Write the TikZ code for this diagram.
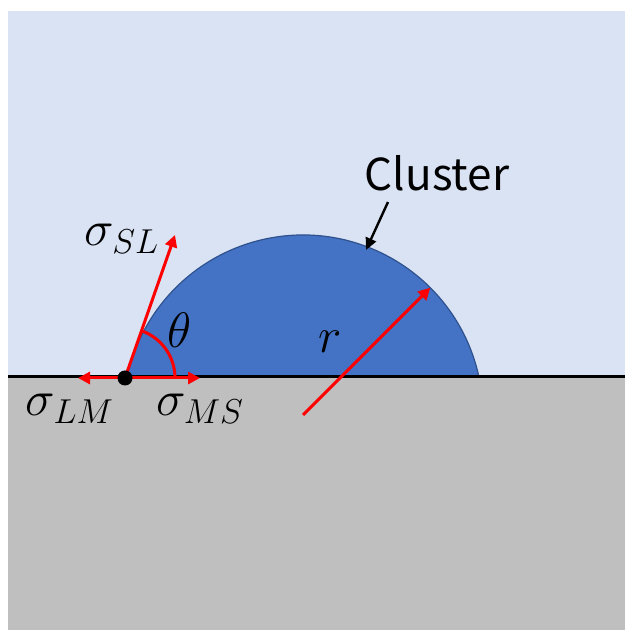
\documentclass[tikz,border=0pt]{standalone}
\usepackage{fontspec}
\usepackage{amsmath}
\newfontfamily\clfont{Noto Sans CJK JP}
\usetikzlibrary{positioning, arrows.meta, calc}
\definecolor{cAir}{HTML}{DAE3F3}
\definecolor{cSub}{HTML}{BFBFBF}
\definecolor{cCl}{HTML}{4472C4}
\definecolor{cClEdge}{HTML}{2F528F}

\begin{document}
\begin{tikzpicture}[x=0.5pt, y=0.5pt,
    force/.style={red, line width=1.5pt, -{Triangle[length=6pt, width=6pt]}},
    lbl/.style={font=\fontsize{23}{26}\selectfont, inner sep=0pt}]
    \useasboundingbox (0,0) rectangle (625,630);
    % air and substrate
    \fill[cAir] (8,253) rectangle (625,619);
    \fill[cSub] (8,0) rectangle (625,253);

    % cluster (cap of a circle)
    \coordinate (O) at (303,215);
    \fill[cCl, draw=cClEdge, line width=0.6pt]
        ($(O)+(12.25:180)$) arc[start angle=12.25, end angle=167.75, radius=180] -- cycle;
    \draw[line width=1.5pt] (8,253) -- (625,253);

    % contact point and forces
    \coordinate (C) at (125,252);
    \coordinate (SL) at (175,395);
    \coordinate (LM) at (78,252);
    \coordinate (MS) at (200,252);
    \coordinate (R) at ($(O)+(45:180)$);
    \draw[red, line width=1.5pt] ($(C)+(50,0)$) arc[start angle=0, end angle=70.7, radius=50];
    \draw[force] (C) -- (SL);
    \draw[force] (C) -- (LM);
    \draw[force] (C) -- (MS);
    \draw[force] (O) -- (R);
    \fill (C) circle[radius=7.5];

    % labels
    \node[lbl] (sigSL) at (122,391) {$\sigma_{SL}$};
    \node[lbl] (sigLM) at (70,221) {$\sigma_{LM}$};
    \node[lbl] (sigMS) at (200,221) {$\sigma_{MS}$};
    \node[lbl] (theta) at (180,300) {$\theta$};
    \node[lbl] (rlab) at (330,288) {$r$};
    \node[lbl, font=\clfont\fontsize{22}{24}\selectfont] (clusterlab) at (437,457) {Cluster};
    \coordinate (clTail) at (388,428);
    \coordinate (clTip) at (366,380);
    \draw[line width=1.2pt, -{Triangle[length=6pt, width=5.5pt]}] (clTail) -- (clTip);
\end{tikzpicture}
\end{document}
